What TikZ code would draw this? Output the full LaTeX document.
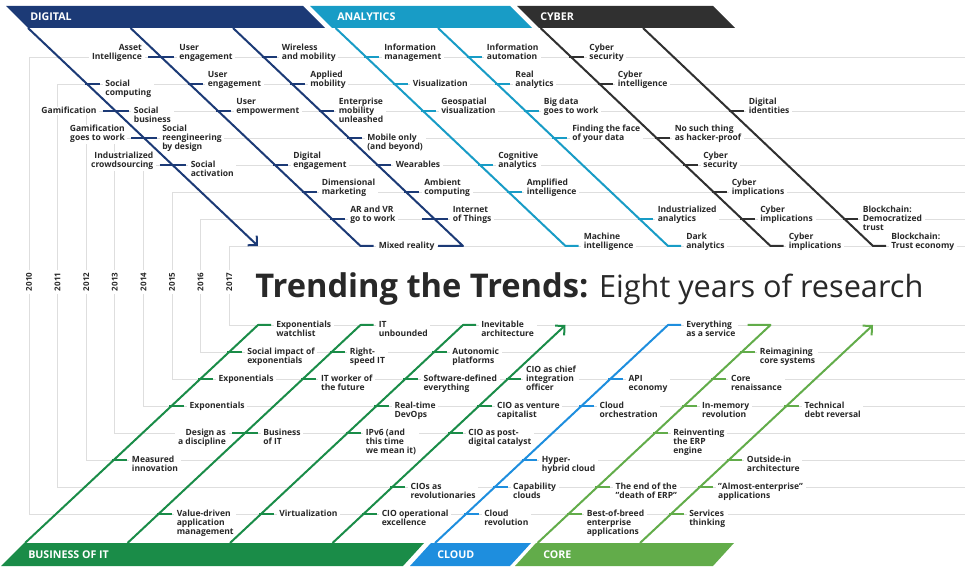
\documentclass[tikz,border=0pt]{standalone}
\usepackage{fontspec}
\setmainfont{Open Sans}
\usetikzlibrary{arrows.meta}

\definecolor{dignavy}{RGB}{28,58,118}
\definecolor{anateal}{RGB}{24,156,198}
\definecolor{cybgray}{RGB}{48,48,48}
\definecolor{bizgreen}{RGB}{26,140,72}
\definecolor{cloudblue}{RGB}{30,142,222}
\definecolor{coregreen}{RGB}{98,172,74}
\definecolor{gridgray}{RGB}{222,222,222}
\definecolor{inkgray}{RGB}{40,40,40}

\newcommand{\lblfont}{\fontsize{6.4}{6.8}\selectfont\bfseries}

\begin{document}
\begin{tikzpicture}[x=0.75pt,y=0.75pt,yscale=-1,xscale=1,
  grid/.style={gridgray, line width=0.6pt},
  spine/.style={line width=1.5pt, line join=round},
  tick/.style={line width=2pt},
  barb/.style={-{Straight Barb[length=5pt,width=10pt]}},
  lbl/.style={font=\lblfont, text=inkgray, fill=white, inner xsep=2pt, inner ysep=0.5pt},
  trend/.style={lbl, align=left, anchor=north west, xshift=11.5pt, yshift=3.45pt},
  trendl/.style={lbl, align=right, anchor=north east, xshift=-12.2pt, yshift=3.45pt},
  up1/.style={yshift=6.8pt},
  banner/.style={font=\fontsize{8}{8}\selectfont\bfseries, text=white, anchor=west, inner sep=0pt},
  year/.style={font=\fontsize{6}{6}\selectfont\bfseries, text=inkgray, fill=white, rotate=90, inner sep=2pt}]
\useasboundingbox (0,0) rectangle (965,574);

%year lines
\foreach \i in {0,...,7}{
  \draw[grid] (965,57+27*\i) -- (29+28.6*\i,57+27*\i) -- (29+28.6*\i,514-27*\i) -- (965,514-27*\i);
}
\foreach \yr [count=\i from 0] in {2010,...,2017}
  \node[year] (yr\yr) at (29+28.6*\i,282) {\yr};

% Text Node
\node[anchor=base west, inner sep=0pt, text=inkgray, font=\fontsize{23}{24}\selectfont] (title) at (255,298) {{\fontsize{24.5}{24}\selectfont\bfseries Trending the Trends:} Eight years of research};

%% top labels
% Text Node
\node[trendl, up1] (dg10l) at (161.1,57) {Asset\\Intelligence};
\node[trend, up1] (dg10a) at (161.1,57) {User\\engagement};
\node[trend, up1] (dg10b) at (263.6,57) {Wireless\\and mobility};
\node[trend, up1] (an10a) at (366.1,57) {Information\\management};
\node[trend, up1] (an10b) at (468.6,57) {Information\\automation};
\node[trend, up1] (cy10a) at (571.1,57) {Cyber\\security};
% Text Node
\node[trend] (dg11a) at (87.1,84) {Social\\computing};
\node[trend, up1] (dg11b) at (189.6,84) {User\\engagement};
\node[trend, up1] (dg11c) at (292.1,84) {Applied\\mobility};
\node[trend] (an11a) at (394.6,84) {Visualization};
\node[trend, up1] (an11b) at (497.1,84) {Real\\analytics};
\node[trend, up1] (cy11a) at (599.6,84) {Cyber\\intelligence};
% Text Node
\node[trendl] (dg12l) at (115.6,111) {Gamification};
\node[trend] (dg12a) at (115.6,111) {Social\\business};
\node[trend, up1] (dg12b) at (218.1,111) {User\\empowerment};
\node[trend, up1] (dg12c) at (320.6,111) {Enterprise\\mobility\\unleashed};
\node[trend, up1] (an12a) at (423.1,111) {Geospatial\\visualization};
\node[trend, up1] (an12b) at (525.6,111) {Big data\\goes to work};
\node[trend, up1] (cy12a) at (730.6,111) {Digital\\identities};
% Text Node
\node[trendl, up1] (dg13l) at (144,138) {Gamification\\goes to work};
\node[trend, up1] (dg13a) at (144,138) {Social\\reengineering\\by design};
\node[trend] (dg13b) at (349,138) {Mobile only\\(and beyond)};
\node[trend, up1] (an13a) at (554,138) {Finding the face\\of your data};
\node[trend, up1] (cy13a) at (656.5,138) {No such thing\\as hacker-proof};
% Text Node
\node[trendl, up1] (dg14l) at (172.5,165) {Industrialized\\crowdsourcing};
\node[trend] (dg14a) at (172.5,165) {Social\\activation};
\node[trend, up1] (dg14b) at (275,165) {Digital\\engagement};
\node[trend] (dg14c) at (377.5,165) {Wearables};
\node[trend, up1] (an14a) at (480,165) {Cognitive\\analytics};
\node[trend, up1] (cy14a) at (685,165) {Cyber\\security};
% Text Node
\node[trend, up1] (dg15a) at (303.5,192) {Dimensional\\marketing};
\node[trend, up1] (dg15b) at (406,192) {Ambient\\computing};
\node[trend, up1] (an15a) at (508.5,192) {Amplified\\intelligence};
\node[trend, up1] (cy15a) at (713.5,192) {Cyber\\implications};
% Text Node
\node[trend, up1] (dg16a) at (332,219) {AR and VR\\go to work};
\node[trend, up1] (dg16b) at (434.5,219) {Internet\\of Things};
\node[trend, up1] (an16a) at (639.5,219) {Industrialized\\analytics};
\node[trend, up1] (cy16a) at (742,219) {Cyber\\implications};
\node[trend, up1] (cy16b) at (844.5,219) {Blockchain:\\Democratized\\trust};
% Text Node
\node[trend] (dg17a) at (360.5,246) {Mixed reality};
\node[trend, up1] (an17a) at (565.5,246) {Machine\\intelligence};
\node[trend, up1] (an17b) at (668,246) {Dark\\analytics};
\node[trend, up1] (cy17a) at (770.5,246) {Cyber\\implications};
\node[trend, up1] (cy17b) at (873,246) {Blockchain:\\Trust economy};

%% bottom labels
% Text Node
\node[trend] (bi17a) at (258,325) {Exponentials\\watchlist};
\node[trend] (bi16a) at (229.1,352) {Social impact of\\exponentials};
\node[trend] (bi15a) at (200.3,379) {Exponentials};
\node[trend] (bi14a) at (171.4,406) {Exponentials};
\node[trend] (bi12a) at (113.7,460) {Measured\\innovation};
% Text Node
\node[trend] (bi10b) at (158.5,514) {Value-driven\\application\\management};
\node[trendl] (bi13l) at (245.1,433) {Design as\\a discipline};
\node[trend] (bi13b) at (245.1,433) {Business\\of IT};
\node[trend] (bi15b) at (302.8,379) {IT worker of\\the future};
\node[trend] (bi16b) at (331.6,352) {Right-\\speed IT};
\node[trend] (bi17b) at (360.5,325) {IT\\unbounded};
% Text Node
\node[trend] (bi10c) at (261,514) {Virtualization};
\node[trend] (bi13c) at (347.6,433) {IPv6 (and\\this time\\we mean it)};
\node[trend] (bi14c) at (376.4,406) {Real-time\\DevOps};
\node[trend] (bi15c) at (405.3,379) {Software-defined\\everything};
\node[trend] (bi16c) at (434.1,352) {Autonomic\\platforms};
\node[trend] (bi17c) at (463,325) {Inevitable\\architecture};
% Text Node
\node[trend] (bi10d) at (363.5,514) {CIO operational\\excellence};
\node[trend] (bi11d) at (392.4,487) {CIOs as\\revolutionaries};
\node[trend] (bi13d) at (450.1,433) {CIO as post-\\digital catalyst};
\node[trend] (bi14d) at (478.9,406) {CIO as venture\\capitalist};
\node[trend, up1] (bi15d) at (507.8,379) {CIO as chief\\integration\\officer};
% Text Node
\node[trend] (cl10a) at (466,514) {Cloud\\revolution};
\node[trend] (cl11a) at (494.9,487) {Capability\\clouds};
\node[trend] (cl12a) at (523.7,460) {Hyper-\\hybrid cloud};
\node[trend] (cl14a) at (581.4,406) {Cloud\\orchestration};
\node[trend] (cl15a) at (610.3,379) {API\\economy};
\node[trend] (cl17a) at (668,325) {Everything\\as a service};
% Text Node
\node[trend] (co10a) at (568.5,514) {Best-of-breed\\enterprise\\applications};
\node[trend] (co11a) at (597.4,487) {The end of the\\"death of ERP"};
\node[trend] (co13a) at (655.1,433) {Reinventing\\the ERP\\engine};
\node[trend] (co14a) at (683.9,406) {In-memory\\revolution};
\node[trend] (co15a) at (712.8,379) {Core\\renaissance};
\node[trend] (co16a) at (741.6,352) {Reimagining\\core systems};
% Text Node
\node[trend] (co10b) at (671,514) {Services\\thinking};
\node[trend] (co11b) at (699.9,487) {"Almost-enterprise"\\applications};
\node[trend] (co12b) at (728.7,460) {Outside-in\\architecture};
\node[trend] (co14b) at (786.4,406) {Technical\\debt reversal};

%% spines
\coordinate (dg1a) at (28,28);    \coordinate (dg1b) at (258,246);
\coordinate (dg2a) at (130.5,28); \coordinate (dg2b) at (360.5,246);
\coordinate (dg3a) at (233,28);   \coordinate (dg3b) at (463,246);
\coordinate (an1a) at (335.5,28); \coordinate (an1b) at (565.5,246);
\coordinate (an2a) at (438,28);   \coordinate (an2b) at (668,246);
\coordinate (cy1a) at (540.5,28); \coordinate (cy1b) at (770.5,246);
\coordinate (cy2a) at (643,28);   \coordinate (cy2b) at (873,246);
\coordinate (bi1a) at (25,543);   \coordinate (bi1b) at (258,325);
\coordinate (bi2a) at (127.5,543); \coordinate (bi2b) at (360.5,325);
\coordinate (bi3a) at (230,543);  \coordinate (bi3b) at (463,325);
\coordinate (bi4a) at (332.5,543); \coordinate (bi4b) at (565.5,325);
\coordinate (cl1a) at (435,543);  \coordinate (cl1b) at (668,325);
\coordinate (co1a) at (537.5,543); \coordinate (co1b) at (770.5,325);
\coordinate (co2a) at (640,543);  \coordinate (co2b) at (873,325);

%Straight Lines
\draw[spine, dignavy, barb] (dg1a) -- (dg1b);
\draw[spine, dignavy] (dg2a) -- (dg2b) -- ++(13,0);
\draw[spine, dignavy] (dg3a) -- (dg3b) -- ++(-25,0);
\draw[spine, anateal] (an1a) -- (an1b) -- ++(13,0);
\draw[spine, anateal] (an2a) -- (an2b) -- ++(13,0);
\draw[spine, cybgray] (cy1a) -- (cy1b) -- ++(13,0);
\draw[spine, cybgray] (cy2a) -- (cy2b) -- ++(13,0);
%Straight Lines
\draw[spine, bizgreen] (bi1a) -- (bi1b) -- ++(13,0);
\draw[spine, bizgreen] (bi2a) -- (bi2b) -- ++(13,0);
\draw[spine, bizgreen] (bi3a) -- (bi3b) -- ++(13,0);
\draw[spine, bizgreen, barb] (bi4a) -- (bi4b);
\draw[spine, cloudblue] (cl1a) -- (cl1b) -- ++(13,0);
\draw[spine, coregreen] (co1a) -- (co1b) -- ++(-23,0);
\draw[spine, coregreen, barb] (co2a) -- (co2b);

%% ticks
\begin{scope}[dignavy]
\draw[tick] (148.1,57) -- (174.1,57);
\draw[tick] (261.6,57) -- (276.6,57);
\draw[tick] (85.1,84) -- (100.1,84);
\draw[tick] (187.6,84) -- (202.6,84);
\draw[tick] (290.1,84) -- (305.1,84);
\draw[tick] (102.6,111) -- (128.6,111);
\draw[tick] (216.1,111) -- (231.1,111);
\draw[tick] (318.6,111) -- (333.6,111);
\draw[tick] (131,138) -- (157,138);
\draw[tick] (347,138) -- (362,138);
\draw[tick] (159.5,165) -- (185.5,165);
\draw[tick] (273,165) -- (288,165);
\draw[tick] (375.5,165) -- (390.5,165);
\draw[tick] (301.5,192) -- (316.5,192);
\draw[tick] (404,192) -- (419,192);
\draw[tick] (330,219) -- (345,219);
\draw[tick] (421.5,219) -- (447.5,219);
\end{scope}
\begin{scope}[anateal]
\draw[tick] (364.1,57) -- (379.1,57);
\draw[tick] (466.6,57) -- (481.6,57);
\draw[tick] (392.6,84) -- (407.6,84);
\draw[tick] (495.1,84) -- (510.1,84);
\draw[tick] (421.1,111) -- (436.1,111);
\draw[tick] (523.6,111) -- (538.6,111);
\draw[tick] (552,138) -- (567,138);
\draw[tick] (478,165) -- (493,165);
\draw[tick] (506.5,192) -- (521.5,192);
\draw[tick] (637.5,219) -- (652.5,219);
\end{scope}
\begin{scope}[cybgray]
\draw[tick] (569.1,57) -- (584.1,57);
\draw[tick] (597.6,84) -- (612.6,84);
\draw[tick] (728.6,111) -- (743.6,111);
\draw[tick] (654.5,138) -- (669.5,138);
\draw[tick] (683,165) -- (698,165);
\draw[tick] (711.5,192) -- (726.5,192);
\draw[tick] (740,219) -- (755,219);
\draw[tick] (842.5,219) -- (857.5,219);
\end{scope}
\begin{scope}[bizgreen]
\draw[tick] (227.1,352) -- (242.1,352);
\draw[tick] (198.3,379) -- (213.3,379);
\draw[tick] (169.4,406) -- (184.4,406);
\draw[tick] (111.7,460) -- (126.7,460);
\draw[tick] (156.5,514) -- (171.5,514);
\draw[tick] (232.1,433) -- (258.1,433);
\draw[tick] (300.8,379) -- (315.8,379);
\draw[tick] (329.6,352) -- (344.6,352);
\draw[tick] (259,514) -- (274,514);
\draw[tick] (345.6,433) -- (360.6,433);
\draw[tick] (374.4,406) -- (389.4,406);
\draw[tick] (403.3,379) -- (418.3,379);
\draw[tick] (432.1,352) -- (447.1,352);
\draw[tick] (361.5,514) -- (376.5,514);
\draw[tick] (390.4,487) -- (405.4,487);
\draw[tick] (448.1,433) -- (463.1,433);
\draw[tick] (476.9,406) -- (491.9,406);
\draw[tick] (505.8,379) -- (520.8,379);
\end{scope}
\begin{scope}[cloudblue]
\draw[tick] (464,514) -- (479,514);
\draw[tick] (492.9,487) -- (507.9,487);
\draw[tick] (521.7,460) -- (536.7,460);
\draw[tick] (579.4,406) -- (594.4,406);
\draw[tick] (608.3,379) -- (623.3,379);
\end{scope}
\begin{scope}[coregreen]
\draw[tick] (566.5,514) -- (581.5,514);
\draw[tick] (595.4,487) -- (610.4,487);
\draw[tick] (653.1,433) -- (668.1,433);
\draw[tick] (681.9,406) -- (696.9,406);
\draw[tick] (710.8,379) -- (725.8,379);
\draw[tick] (739.6,352) -- (754.6,352);
\draw[tick] (669,514) -- (684,514);
\draw[tick] (697.9,487) -- (712.9,487);
\draw[tick] (726.7,460) -- (741.7,460);
\draw[tick] (784.4,406) -- (799.4,406);
\end{scope}

%% banners
\fill[dignavy] (6,6) -- (303,6) -- (325,28) -- (28,28) -- cycle;
\fill[anateal] (310,6) -- (510,6) -- (532,28) -- (332,28) -- cycle;
\fill[cybgray] (517,6) -- (713,6) -- (735,28) -- (539,28) -- cycle;
\node[banner] (digital) at (30,17) {DIGITAL};
\node[banner] (analytics) at (337,17) {ANALYTICS};
\node[banner] (cyber) at (540,17) {CYBER};
\fill[bizgreen] (24,543) -- (424,543) -- (403,566) -- (1,566) -- cycle;
\fill[cloudblue] (431,543) -- (531,543) -- (510,566) -- (410,566) -- cycle;
\fill[coregreen] (536,543) -- (734,543) -- (713,566) -- (515,566) -- cycle;
\node[banner] (business) at (28,555) {BUSINESS OF IT};
\node[banner] (cloud) at (437,555) {CLOUD};
\node[banner] (core) at (543,555) {CORE};
\end{tikzpicture}
\end{document}
